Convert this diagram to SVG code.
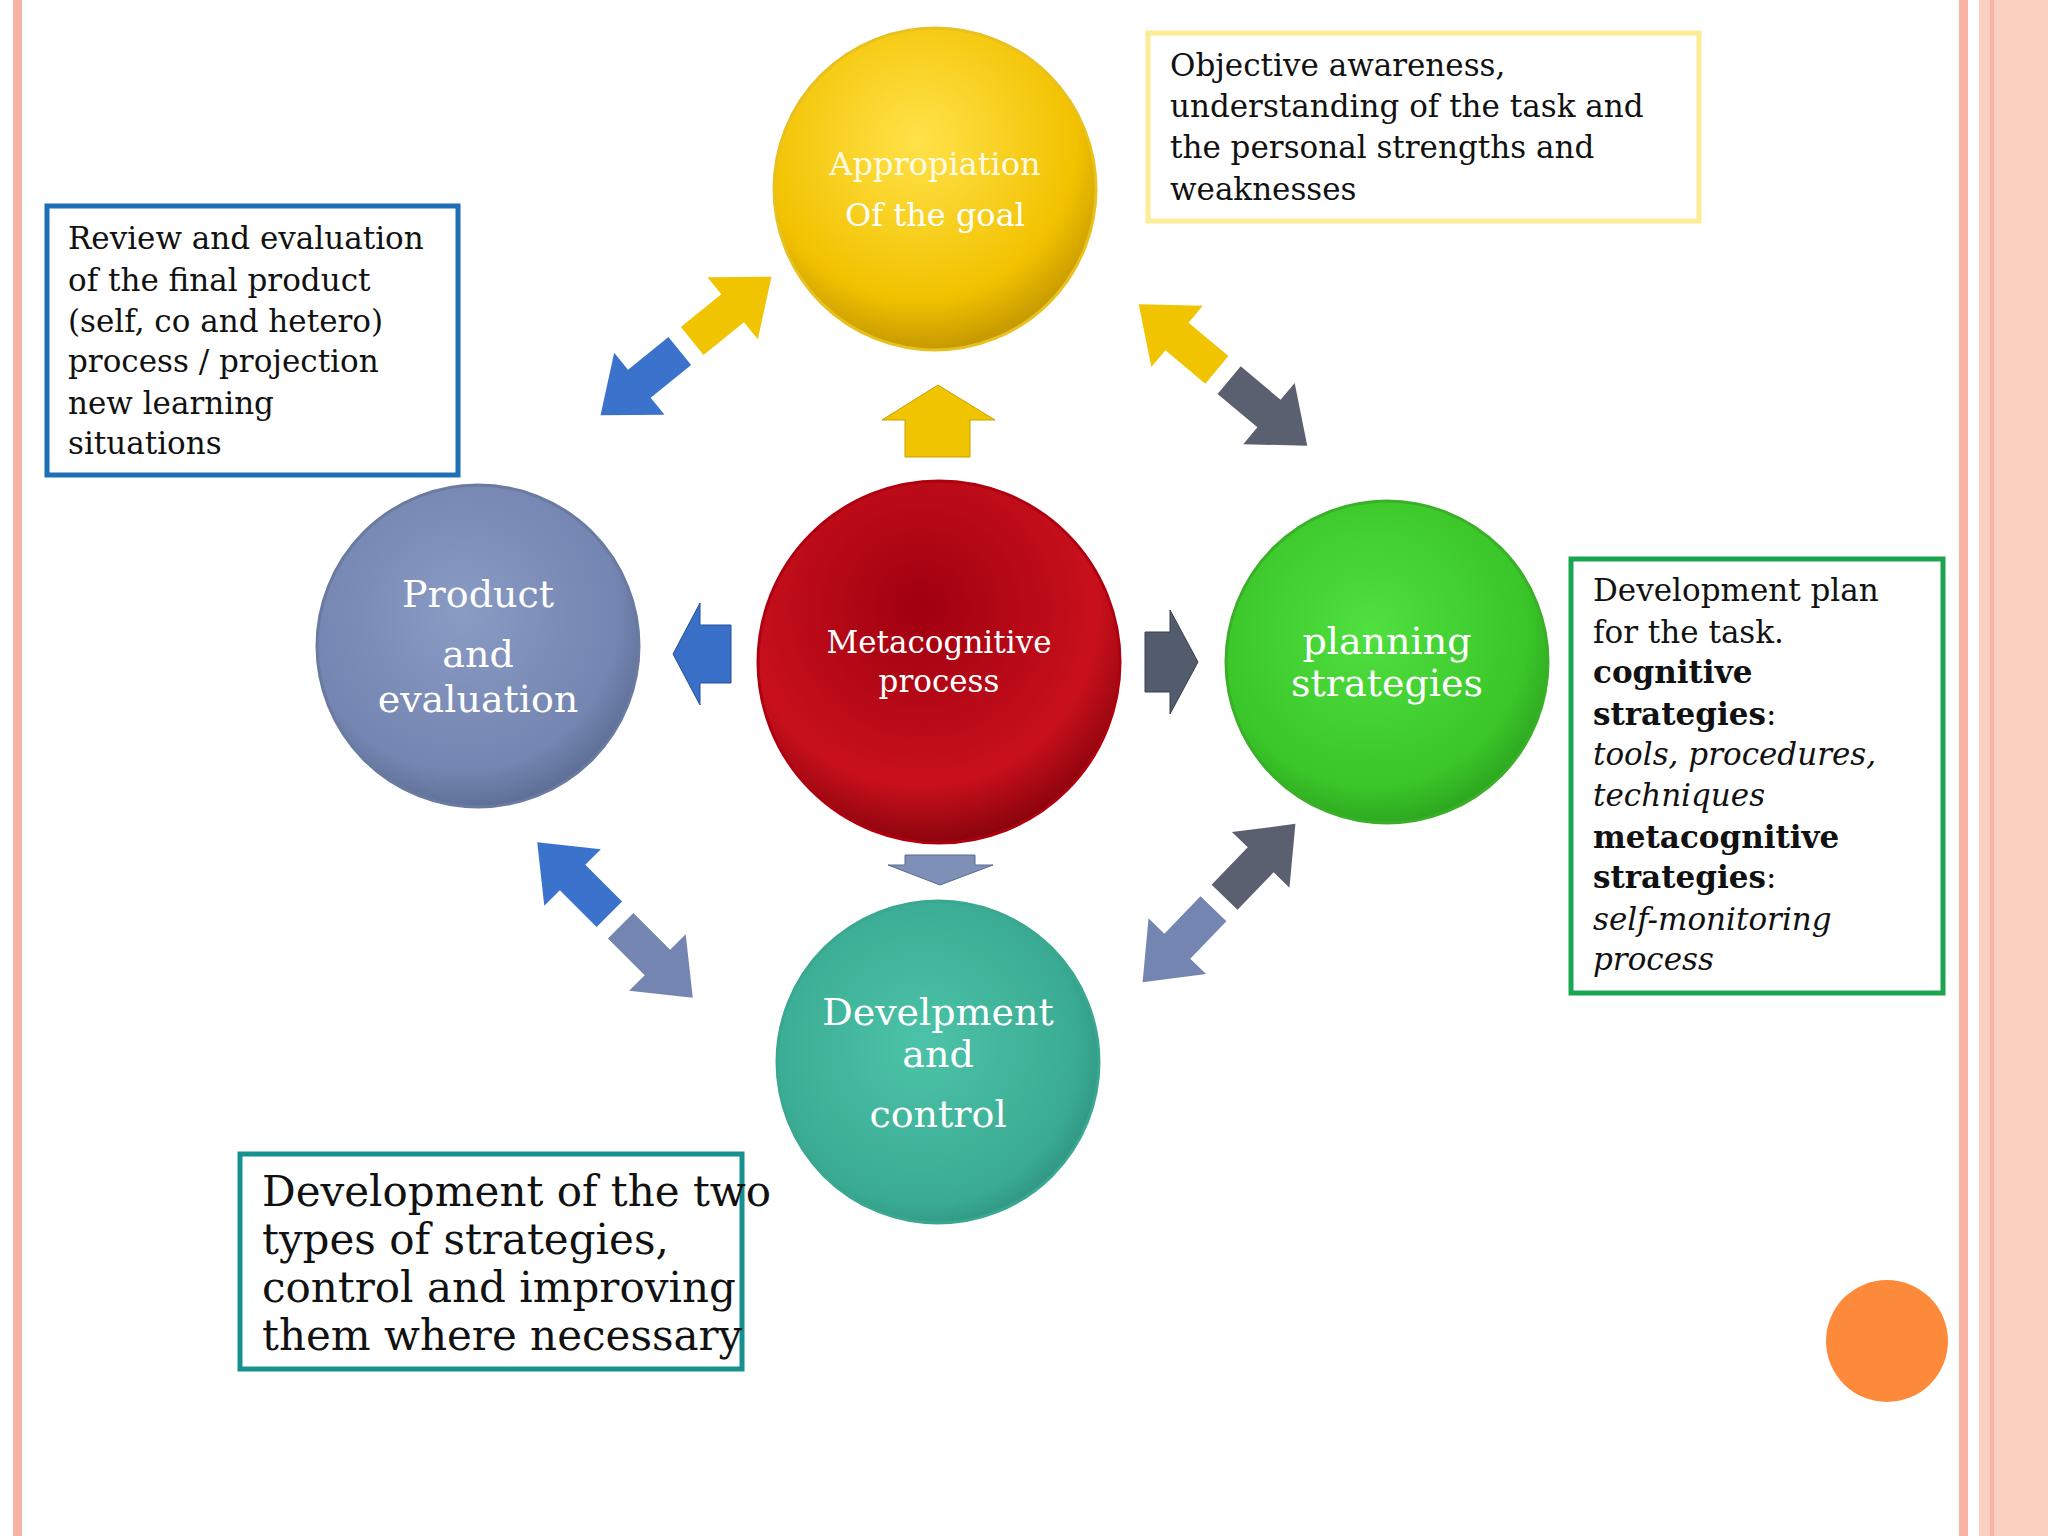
<svg xmlns="http://www.w3.org/2000/svg" width="2048" height="1536" viewBox="0 0 2048 1536">
<style>
.ct{font-family:"DejaVu Serif","Liberation Serif",serif;fill:#fff;text-anchor:middle}
.bt{font-family:"DejaVu Serif","Liberation Serif",serif;fill:#111;font-size:31px}
.bt.big{font-size:42px}
.box{fill:#fff;stroke-width:5}
</style>
<defs>
<radialGradient id="gY" cx="45%" cy="35%" r="70%"><stop offset="0" stop-color="#ffe24a"/><stop offset="0.7" stop-color="#f2c200"/><stop offset="1" stop-color="#b88d00"/></radialGradient>
<radialGradient id="gR" cx="45%" cy="35%" r="70%"><stop offset="0" stop-color="#a00010"/><stop offset="0.7" stop-color="#c8101c"/><stop offset="1" stop-color="#7a0008"/></radialGradient>
<radialGradient id="gB" cx="45%" cy="40%" r="70%"><stop offset="0" stop-color="#8a9bc4"/><stop offset="0.7" stop-color="#7385b0"/><stop offset="1" stop-color="#4e5d82"/></radialGradient>
<radialGradient id="gG" cx="45%" cy="40%" r="70%"><stop offset="0" stop-color="#50e040"/><stop offset="0.7" stop-color="#3ac528"/><stop offset="1" stop-color="#23901a"/></radialGradient>
<radialGradient id="gT" cx="45%" cy="45%" r="70%"><stop offset="0" stop-color="#4cc3a8"/><stop offset="0.7" stop-color="#3aab92"/><stop offset="1" stop-color="#22786a"/></radialGradient>
<polygon id="half" points="8,-18 60,-18 60,-40 110,0 60,40 60,18 8,18"/>
</defs>
<rect width="2048" height="1536" fill="#fff"/>
<rect x="13" y="0" width="9" height="1536" fill="#f7b3a3"/>
<rect x="1959" y="0" width="9" height="1536" fill="#f7b3a3"/>
<rect x="1979" y="0" width="69" height="1536" fill="#fbd0c0"/>
<rect x="1990" y="0" width="4" height="1536" fill="#f7b3a3"/>
<g id="connectors">
<polygon points="938,385 995,420 970,420 970,457 905,457 905,420 882,420" fill="#f0c400" stroke="#c9a000"/>
<polygon points="673,654 700,603 700,625 731,625 731,683 700,683 700,705" fill="#3a6fc8" stroke="#25509a"/>
<polygon points="1198,662 1170,610 1170,632 1145,632 1145,692 1170,692 1170,714" fill="#535c6c" stroke="#3a404c"/>
<polygon points="905,855 975,855 975,865 993,865 940,885 888,865 905,865" fill="#7f90b8" stroke="#5a6a90"/>
<use href="#half" transform="translate(686,346) rotate(-39)" fill="#f0c400"/>
<use href="#half" transform="translate(686,346) rotate(141)" fill="#3a72cc"/>
<use href="#half" transform="translate(1223,375) rotate(-140)" fill="#f0c400"/>
<use href="#half" transform="translate(1223,375) rotate(40)" fill="#5a6070"/>
<use href="#half" transform="translate(615,920) rotate(-135)" fill="#3a72cc"/>
<use href="#half" transform="translate(615,920) rotate(45)" fill="#7385b0"/>
<use href="#half" transform="translate(1219,903) rotate(-46)" fill="#5a6070"/>
<use href="#half" transform="translate(1219,903) rotate(134)" fill="#7385b0"/>
</g>
<g id="appropiation"><circle cx="935" cy="189" r="161" fill="url(#gY)" stroke="#e8c020" stroke-width="3"/>
<text class="ct" font-size="32" x="935" y="175" fill-opacity="0.9">Appropiation</text><text class="ct" font-size="32" x="935" y="226">Of the goal</text></g>
<g id="metacognitive"><circle cx="939" cy="662" r="181" fill="url(#gR)" stroke="#b00010" stroke-width="3"/>
<text class="ct" font-size="31" x="939" y="653">Metacognitive</text><text class="ct" font-size="31" x="939" y="692">process</text></g>
<g id="product"><circle cx="478" cy="646" r="161" fill="url(#gB)" stroke="#6a7aa0" stroke-width="3"/>
<text class="ct" font-size="38" x="478" y="607">Product</text><text class="ct" font-size="38" x="478" y="667">and</text><text class="ct" font-size="38" x="478" y="712">evaluation</text></g>
<g id="planning"><circle cx="1387" cy="662" r="161" fill="url(#gG)" stroke="#3ab028" stroke-width="3"/>
<text class="ct" font-size="38" x="1387" y="654">planning</text><text class="ct" font-size="38" x="1387" y="696">strategies</text></g>
<g id="development"><circle cx="938" cy="1062" r="161" fill="url(#gT)" stroke="#3aa890" stroke-width="3"/>
<text class="ct" font-size="38" x="938" y="1025">Develpment</text><text class="ct" font-size="38" x="938" y="1067">and</text><text class="ct" font-size="38" x="938" y="1127">control</text></g>
<g id="box-yellow"><rect class="box" x="1148" y="33" width="551" height="188" stroke="#fcec96"/>
<text class="bt" x="1170" y="76">Objective awareness,</text><text class="bt" x="1170" y="117">understanding of the task and</text><text class="bt" x="1170" y="158">the personal strengths and</text><text class="bt" x="1170" y="200">weaknesses</text></g>
<g id="box-blue"><rect class="box" x="47" y="206" width="411" height="269" stroke="#1f6fb5"/>
<text class="bt" x="68" y="249">Review and evaluation</text><text class="bt" x="68" y="291">of the final product</text><text class="bt" x="68" y="332">(self, co and hetero)</text><text class="bt" x="68" y="372">process / projection</text><text class="bt" x="68" y="414">new learning</text><text class="bt" x="68" y="454">situations</text></g>
<g id="box-green"><rect class="box" x="1571" y="559" width="372" height="434" stroke="#1aa550"/>
<text class="bt" x="1593" y="601">Development plan</text><text class="bt" x="1593" y="643">for the task.</text>
<text class="bt" x="1593" y="683" font-weight="bold">cognitive</text><text class="bt" x="1593" y="725"><tspan font-weight="bold">strategies</tspan>:</text>
<text class="bt" x="1593" y="765" font-style="italic">tools, procedures,</text><text class="bt" x="1593" y="806" font-style="italic">techniques</text>
<text class="bt" x="1593" y="848" font-weight="bold">metacognitive</text><text class="bt" x="1593" y="888"><tspan font-weight="bold">strategies</tspan>:</text>
<text class="bt" x="1593" y="930" font-style="italic">self-monitoring</text><text class="bt" x="1593" y="970" font-style="italic">process</text></g>
<g id="box-teal"><rect class="box" x="240" y="1154" width="502" height="215" stroke="#16918f"/>
<text class="bt big" x="262" y="1206">Development of the two</text><text class="bt big" x="262" y="1254">types of strategies,</text><text class="bt big" x="262" y="1302">control and improving</text><text class="bt big" x="262" y="1350">them where necessary</text></g>
<circle cx="1887" cy="1341" r="61" fill="#fd8a3a"/>
</svg>
